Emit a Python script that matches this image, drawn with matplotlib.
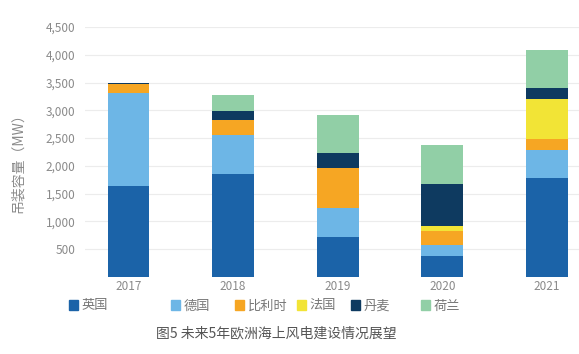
import numpy as np
import matplotlib.pyplot as plt
from matplotlib.patches import Patch

plt.rcParams['font.family'] = ['Noto Sans CJK SC', 'DejaVu Sans']

years = ['2017', '2018', '2019', '2020', '2021']
countries = ['英国', '德国', '比利时', '法国', '丹麦', '荷兰']
uk = [1630, 1860, 720, 380, 1790]
de = [1690, 690, 520, 200, 500]
be = [150, 270, 720, 250, 200]
fr = [0, 0, 0, 90, 710]
dk = [30, 160, 270, 760, 200]
nl = [0, 290, 690, 700, 690]
series = [uk, de, be, fr, dk, nl]
colors = ['#1b63a8', '#6db6e6', '#f6a623', '#f2e436', '#0e3a60', '#91cfa6']
yticks = [500, 1000, 1500, 2000, 2500, 3000, 3500, 4000, 4500]

fig = plt.figure(figsize=(5.79, 3.54), dpi=100)
ax = fig.add_axes([85 / 579, 77 / 354, 494 / 579, 250 / 354])

x = np.arange(len(years))
bottom = np.zeros(len(years))
for vals, c in zip(series, colors):
    ax.bar(x, vals, width=0.4, bottom=bottom, color=c, zorder=3)
    bottom += np.array(vals)

ax.set_xlim(-0.416, 4.306)
ax.set_ylim(0, 4500)
ax.set_yticks(yticks)
ax.set_yticklabels([f'{v:,}' for v in yticks])
ax.set_xticks(x)
ax.set_xticklabels(years)
ax.tick_params(axis='both', length=0, colors='#8a8a8a', labelsize=8.5)
ax.tick_params(axis='y', pad=7)
ax.tick_params(axis='x', pad=2)
ax.grid(axis='y', color='#ececec', linewidth=0.8, zorder=0)
for s in ax.spines.values():
    s.set_visible(False)

fig.text(18 / 579, 1 - 160 / 354, '吊装容量（MW）', rotation=90, ha='center', va='center',
         fontsize=10, color='#8a8a8a')

# legend entries sit at uneven spots in the original
leg_x = [62, 164, 228, 290, 344, 414]
for name, c, lx in zip(countries, colors, leg_x):
    lg = fig.legend(handles=[Patch(color=c)], labels=[name], loc='center left',
                    bbox_to_anchor=(lx / 579, 1 - 306 / 354), frameon=False,
                    handlelength=0.7, handleheight=0.7, handletextpad=0.3,
                    borderpad=0, fontsize=9.5)
    for t in lg.get_texts():
        t.set_color('#777777')

fig.text(276 / 579, 1 - 333 / 354, '图5 未来5年欧洲海上风电建设情况展望', ha='center', va='center',
         fontsize=10, color='#555555')

fig.savefig('out.png', dpi=100)
